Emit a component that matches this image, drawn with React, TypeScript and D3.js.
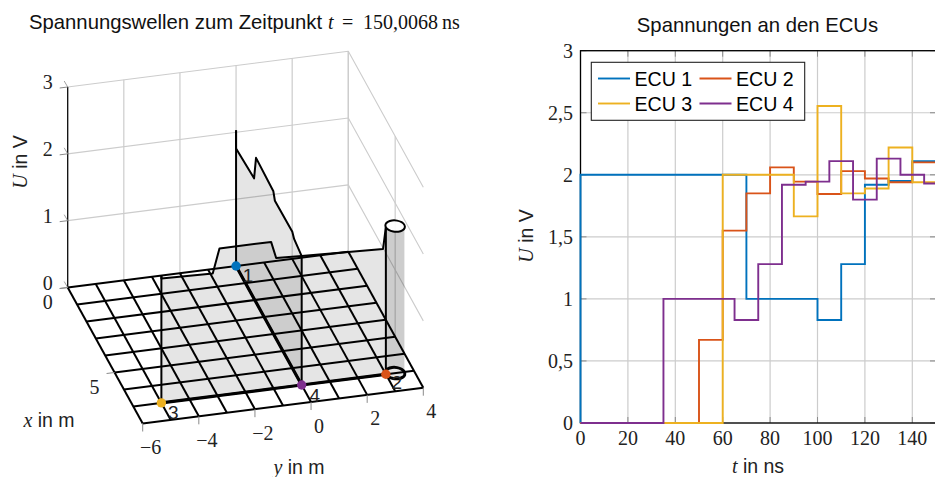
import React, { useEffect, useRef } from 'react';
import * as d3 from 'd3';

const SANS = '"Liberation Sans", Arial, sans-serif';
const SERIF = '"Liberation Serif", serif';

// right chart: voltages at the ECUs (step after)
const ecuNames = ['ECU 1', 'ECU 2', 'ECU 3', 'ECU 4'];
const ecuColors = ['#0072BD', '#D95319', '#EDB120', '#7E2F8E'];
const ecu1T = [0, 0, 70, 100, 110, 120, 130, 140, 150];
const ecu1U = [0, 2, 1, 0.83, 1.28, 1.92, 1.95, 2.11, 2.11];
const ecu2T = [0, 50, 60, 70, 80, 90, 100, 110, 120, 130, 140, 150];
const ecu2U = [0, 0.67, 1.55, 1.85, 2.06, 1.945, 1.845, 2.03, 1.97, 1.94, 2.1, 2.1];
const ecu3T = [0, 60, 90, 100, 110, 120, 130, 140, 150];
const ecu3U = [0, 2, 1.665, 2.555, 1.85, 1.89, 2.22, 1.94, 1.94];
const ecu4T = [0, 35, 65, 75, 85, 95, 105, 115, 125, 135, 145, 150];
const ecu4U = [0, 1, 0.83, 1.28, 1.92, 1.945, 2.11, 1.8, 2.13, 2.0, 1.93, 1.93];
const ecuT = [ecu1T, ecu2T, ecu3T, ecu4T];
const ecuU = [ecu1U, ecu2U, ecu3U, ecu4U];
const tTicks = [0, 20, 40, 60, 80, 100, 120, 140];
const uTicks = [0, 0.5, 1, 1.5, 2, 2.5, 3];

// left chart: wave along the wires, x and y in m, U in V
const wireAX = [0, 0, 1.92, 2.13, 3.98, 4.14, 6.0, 6.19, 7];
const wireAU = [2.03, 1.76, 1.8, 2.16, 2.13, 2.03, 2.04, 1.98, 1.93];
const wireBY = [-5, -5, -3.17, -2.93, -1.09, -0.91, 0];
const wireBU = [1.9, 1.86, 1.84, 2.2, 2.2, 1.95, 1.93];
const wireCY = [0, 2.9, 3];
const wireCU = [1.93, 1.88, 2.2];
const loopX = [7, 7.165, 7.286, 7.33, 7.286, 7.165, 7, 6.835, 6.714, 6.67, 6.714, 6.835];
const loopY = [3, 3.044, 3.165, 3.33, 3.495, 3.616, 3.66, 3.616, 3.495, 3.33, 3.165, 3.044];
const loopU = 2.2;
const nodeX = [0, 7, 7, 7];
const nodeY = [0, 3, -5, 0];
const nodeTop = [2.03, 2.2, 1.9, 1.93];
const nodeLabels = ['1', '2', '3', '4'];
const floorX = [0, 1, 2, 3, 4, 5, 6, 7, 8];
const floorY = [-6, -5, -4, -3, -2, -1, 0, 1, 2, 3, 4];
const wallY = [-6, -4, -2, 0, 2, 4];
const wallX = [0, 5];
const wallZ = [1, 2, 3];
const zTicks = [0, 1, 2, 3];

const minus = (d: number) => String(d).replace('-', '\u2212');

const App = () => {
  const ref = useRef<SVGSVGElement>(null);

  useEffect(() => {
    const svg = d3.select(ref.current);
    svg.selectAll('*').remove();

    // ---- left: oblique projection built from four linear scales
    const xToSx = d3.scaleLinear().domain([0, 8]).range([0, 75]);
    const xToSy = d3.scaleLinear().domain([0, 8]).range([0, 136]);
    const yToSx = d3.scaleLinear().domain([-6, 4]).range([67.7, 348.3]);
    const yToSy = d3.scaleLinear().domain([-6, 4]).range([287.5, 251.7]);
    const zToSy = d3.scaleLinear().domain([0, 3]).range([0, -200.5]);
    const project = (x: number, y: number, z: number): [number, number] => [
      xToSx(x) + yToSx(y),
      xToSy(x) + yToSy(y) + zToSy(z),
    ];
    const path = d3.line();
    const left = svg.append('g');

    const drawLine = (pts: [number, number][], stroke: string, width: number) =>
      left
        .append('path')
        .attr('d', path(pts))
        .attr('fill', 'none')
        .attr('stroke', stroke)
        .attr('stroke-width', width)
        .attr('stroke-linejoin', 'round');

    // wall grid
    const wallColor = '#cccccc';
    wallY.forEach((y) => drawLine([project(0, y, 0), project(0, y, 3)], wallColor, 1.2));
    wallX.forEach((x) => drawLine([project(x, 4, 0), project(x, 4, 3)], wallColor, 1.2));
    wallZ.forEach((z) => {
      drawLine([project(0, -6, z), project(0, 4, z), project(8, 4, z)], wallColor, 1.1);
    });

    // curtains under the wave
    const curtain = (pts: [number, number, number][]) => {
      const top = pts.map((p) => project(p[0], p[1], p[2]));
      const bottom = pts.map((p) => project(p[0], p[1], 0)).reverse();
      left
        .append('path')
        .attr('d', path([...top, ...bottom]) + 'Z')
        .attr('fill', '#000')
        .attr('fill-opacity', 0.1);
    };
    const wireA = wireAX.map((x, i) => [x, 0, wireAU[i]] as [number, number, number]);
    const wireB = wireBY.map((y, i) => [7, y, wireBU[i]] as [number, number, number]);
    const wireC = wireCY.map((y, i) => [7, y, wireCU[i]] as [number, number, number]);
    curtain(wireA);
    curtain(wireB);
    curtain(wireC);

    // ring at the end of the stub
    const ring = loopX.map((x, i) => [x, loopY[i]]);
    const front = ring.slice(0, 7);
    const back = [...ring.slice(6), ring[0]];
    [back, front].forEach((part) =>
      curtain(part.map((p) => [p[0], p[1], loopU] as [number, number, number]))
    );

    // floor grid
    floorX.forEach((x) => drawLine([project(x, -6, 0), project(x, 4, 0)], '#000', 2));
    floorY.forEach((y) => drawLine([project(0, y, 0), project(8, y, 0)], '#000', 2));

    // wave lines and bus
    const ringPath = d3.line().curve(d3.curveCardinalClosed.tension(0));
    [wireA, wireB, wireC].forEach((w) => {
      drawLine(w.map((p) => project(p[0], p[1], p[2])), '#000', 2);
      drawLine(w.map((p) => project(p[0], p[1], 0)), '#000', 3.2);
    });
    nodeX.forEach((x, i) =>
      drawLine([project(x, nodeY[i], 0), project(x, nodeY[i], nodeTop[i])], '#000', 2)
    );
    left
      .append('path')
      .attr('d', ringPath(ring.map((p) => project(p[0], p[1], loopU))))
      .attr('fill', '#fff')
      .attr('fill-opacity', 0.9)
      .attr('stroke', '#000')
      .attr('stroke-width', 2);
    left
      .append('path')
      .attr('d', ringPath(ring.map((p) => project(p[0], p[1], 0))))
      .attr('fill', 'none')
      .attr('stroke', '#000')
      .attr('stroke-width', 3);

    // node labels, then dots
    const labelOffset = [
      [12, 9],
      [11, 8],
      [12, 9.5],
      [13, 10],
    ];
    nodeX.forEach((x, i) => {
      const [sx, sy] = project(x, nodeY[i], 0);
      left
        .append('text')
        .attr('x', sx + labelOffset[i][0])
        .attr('y', sy + labelOffset[i][1])
        .attr('text-anchor', 'middle')
        .attr('dominant-baseline', 'central')
        .style('font-family', SANS)
        .style('font-size', '19px')
        .attr('fill', '#222')
        .text(nodeLabels[i]);
      left
        .append('circle')
        .attr('cx', sx)
        .attr('cy', sy)
        .attr('r', 4.7)
        .attr('fill', ecuColors[i]);
    });

    // ticks + tick labels of the left chart
    const tickColor = '#8a8a8a';
    const mathLabel = (g: any, x: number, y: number, s: string, anchor = 'middle') =>
      g
        .append('text')
        .attr('x', x)
        .attr('y', y)
        .attr('text-anchor', anchor)
        .attr('dominant-baseline', 'central')
        .style('font-family', SERIF)
        .style('font-size', '20px')
        .attr('fill', '#222')
        .text(s);

    drawLine([project(0, -6, 0), project(0, -6, 3)], '#000', 1.2);
    zTicks.forEach((z) => {
      const [sx, sy] = project(0, -6, z);
      drawLine([[sx - 8, sy + 1], [sx, sy]], tickColor, 1);
      drawLine([[sx - 3.5, sy - 6], [sx, sy]], tickColor, 0.8);
      mathLabel(left, sx - 20, sy - 5, String(z));
    });
    wallX.forEach((x) => {
      const [sx, sy] = project(x, -6, 0);
      drawLine([[sx - 8, sy + 1], [sx, sy]], tickColor, 1);
      mathLabel(left, sx - 20, sy + 14.7, String(x));
    });
    wallY.forEach((y) => {
      const [sx, sy] = project(8, y, 0);
      drawLine([[sx, sy], [sx, sy + 8]], tickColor, 1);
      mathLabel(left, sx + 8, sy + 23.5, minus(y));
    });

    // mixed serif italic + sans labels
    const varLabel = (x: number, y: number, v: string, rest: string, rotate = false) => {
      const t = svg
        .append('text')
        .attr('text-anchor', 'middle')
        .attr('dominant-baseline', 'central')
        .attr('transform', `translate(${x},${y})${rotate ? 'rotate(-90)' : ''}`)
        .attr('fill', '#222');
      t.append('tspan')
        .style('font-family', SERIF)
        .style('font-style', 'italic')
        .style('font-size', '20px')
        .text(v);
      t.append('tspan')
        .style('font-family', SANS)
        .style('font-size', '19.5px')
        .text(` ${rest}`);
    };
    varLabel(20, 162, 'U', 'in V', true);
    varLabel(49, 420, 'x', 'in m');
    varLabel(299, 466.5, 'y', 'in m');

    // title of the left chart
    const title = svg
      .append('text')
      .attr('x', 29)
      .attr('y', 22)
      .attr('dominant-baseline', 'central')
      .attr('fill', '#111');
    title
      .append('tspan')
      .style('font-family', SANS)
      .style('font-size', '20.3px')
      .text('Spannungswellen zum Zeitpunkt');
    const titleMath = [
      { x: 328, s: 't', italic: true },
      { x: 342, s: '=', italic: false },
      { x: 363, s: '150,0068', italic: false },
      { x: 442, s: 'ns', italic: false },
    ];
    titleMath.forEach((m) => {
      title
        .append('tspan')
        .attr('x', m.x)
        .style('font-family', SERIF)
        .style('font-style', m.italic ? 'italic' : 'normal')
        .style('font-size', '20px')
        .text(m.s);
    });

    // ---- right: step chart
    const tx = d3.scaleLinear().domain([0, 150]).range([580.5, 936]);
    const uy = d3.scaleLinear().domain([0, 3]).range([423, 50.7]);
    const right = svg.append('g');

    const grid = right.append('g').attr('stroke', '#cccccc').attr('stroke-width', 1.2);
    grid
      .selectAll('line.v')
      .data(tTicks)
      .join('line')
      .attr('class', 'v')
      .attr('x1', (d) => tx(d))
      .attr('x2', (d) => tx(d))
      .attr('y1', uy(0))
      .attr('y2', uy(3));
    grid
      .selectAll('line.h')
      .data(uTicks)
      .join('line')
      .attr('class', 'h')
      .attr('x1', tx(0))
      .attr('x2', tx(150))
      .attr('y1', (d) => uy(d))
      .attr('y2', (d) => uy(d));

    // inner tick marks
    const ticks = right.append('g').attr('stroke', tickColor).attr('stroke-width', 1);
    uTicks.forEach((u) => {
      ticks.append('line').attr('x1', tx(0)).attr('x2', tx(0) + 6).attr('y1', uy(u)).attr('y2', uy(u));
      ticks.append('line').attr('x1', tx(150) - 6).attr('x2', tx(150)).attr('y1', uy(u)).attr('y2', uy(u));
      mathLabel(right, 573, uy(u), String(u).replace('.', ','), 'end');
    });
    tTicks.forEach((t) => {
      ticks.append('line').attr('x1', tx(t)).attr('x2', tx(t)).attr('y1', uy(0)).attr('y2', uy(0) - 6);
      ticks.append('line').attr('x1', tx(t)).attr('x2', tx(t)).attr('y1', uy(3)).attr('y2', uy(3) + 6);
      mathLabel(right, tx(t), 438, String(t));
    });

    // frame
    right
      .append('rect')
      .attr('x', tx(0))
      .attr('y', uy(3))
      .attr('width', tx(150) - tx(0))
      .attr('height', uy(0) - uy(3))
      .attr('fill', 'none')
      .attr('stroke', '#000')
      .attr('stroke-width', 1.3);

    // series
    const step = d3
      .line<number>()
      .x((d) => tx(d))
      .curve(d3.curveStepAfter);
    ecuT.forEach((ts, i) => {
      right
        .append('path')
        .attr('d', step.y((_, j) => uy(ecuU[i][j]))(ts))
        .attr('fill', 'none')
        .attr('stroke', ecuColors[i])
        .attr('stroke-width', 1.9);
    });

    // legend
    const legend = right.append('g');
    legend
      .append('rect')
      .attr('x', 591.3)
      .attr('y', 62.3)
      .attr('width', 213.4)
      .attr('height', 58)
      .attr('fill', '#fff')
      .attr('stroke', '#222')
      .attr('stroke-width', 1.1);
    const legendX = [598, 699.5];
    const legendY = [78.5, 103.5];
    ecuNames.forEach((name, i) => {
      const lx = legendX[i % 2];
      const ly = legendY[Math.floor(i / 2)];
      legend
        .append('line')
        .attr('x1', lx)
        .attr('x2', lx + 32)
        .attr('y1', ly)
        .attr('y2', ly)
        .attr('stroke', ecuColors[i])
        .attr('stroke-width', 1.9);
      legend
        .append('text')
        .attr('x', lx + 36.5)
        .attr('y', ly)
        .attr('dominant-baseline', 'central')
        .style('font-family', SANS)
        .style('font-size', '19.6px')
        .text(name);
    });

    varLabel(526, 236, 'U', 'in V', true);
    varLabel(758, 465.5, 't', 'in ns');
    svg
      .append('text')
      .attr('x', 757.5)
      .attr('y', 24.5)
      .attr('text-anchor', 'middle')
      .attr('dominant-baseline', 'central')
      .style('font-family', SANS)
      .style('font-size', '20.3px')
      .attr('fill', '#111')
      .text('Spannungen an den ECUs');
  }, []);

  return (
    <svg
      ref={ref}
      width={935}
      height={477}
      style={{ position: 'absolute', left: 0, top: 0, background: '#fff' }}
    />
  );
};

export default App;
